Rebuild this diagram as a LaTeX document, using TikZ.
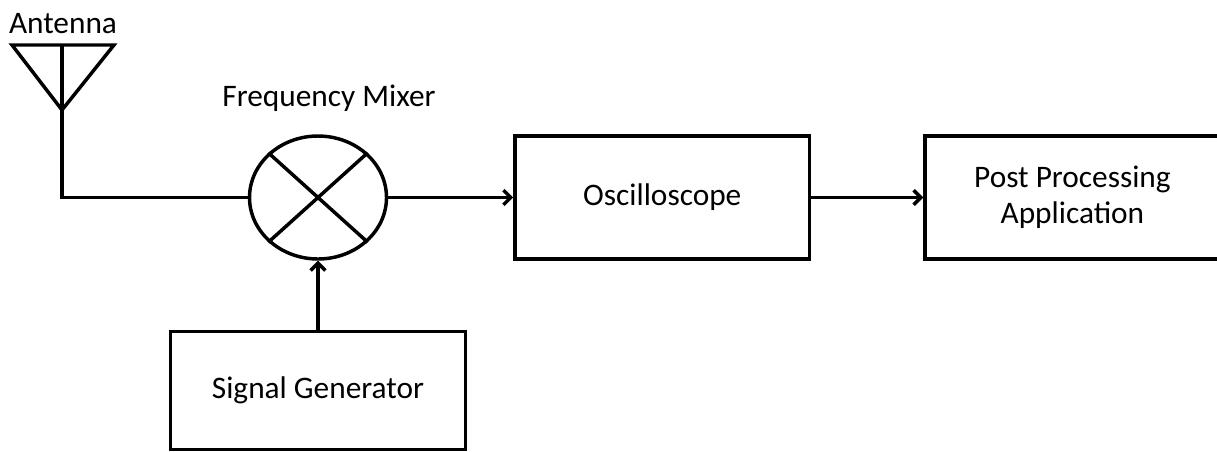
\documentclass[tikz,border=0pt]{standalone}
\usepackage{fontspec}
\setmainfont{Carlito}
\usetikzlibrary{arrows, arrows.meta, shapes.geometric, positioning}

\tikzset{
  block/.style={draw, rectangle, line width=2.6pt, minimum width=221pt, minimum height=92pt, align=center},
  wire/.style={line width=2.6pt},
}

\begin{document}
\begin{tikzpicture}[x=0.75pt, y=-0.75pt, >={Straight Barb[length=5.5pt, width=11pt]}, font=\fontsize{23.5}{27}\selectfont]
                \useasboundingbox (0,0) rectangle (1217,451);

                \node[draw, ellipse, line width=2.6pt, minimum width=102.75pt, minimum height=92.25pt] (mix) at (318,197.5) {};
                \node (mixlabel) at (329,98) {Frequency Mixer};
                \node[block, right=93.75pt of mix] (osc) {Oscilloscope};
                \node[block, right=84pt of osc] (post) {Post Processing\\Application};
                \node[block, below=51.75pt of mix, minimum height=88.5pt] (sig) {Signal Generator};

                \node (antlabel) at (63,24) {Antenna};
                \coordinate (top) at (62,45);
                \coordinate (apex) at (62,110);
                \draw[wire, line join=miter] (12,45) -- (114,45) -- (apex) -- cycle;

                \draw[wire] (top) -- (apex) |- (mix.west);
                \draw[wire] (mix.north west) -- (mix.south east);
                \draw[wire] (mix.north east) -- (mix.south west);
                \draw[wire, ->] (mix) -- (osc);
                \draw[wire, ->] (osc) -- (post);
                \draw[wire, ->] (sig) -- (mix);
            \end{tikzpicture}
\end{document}
